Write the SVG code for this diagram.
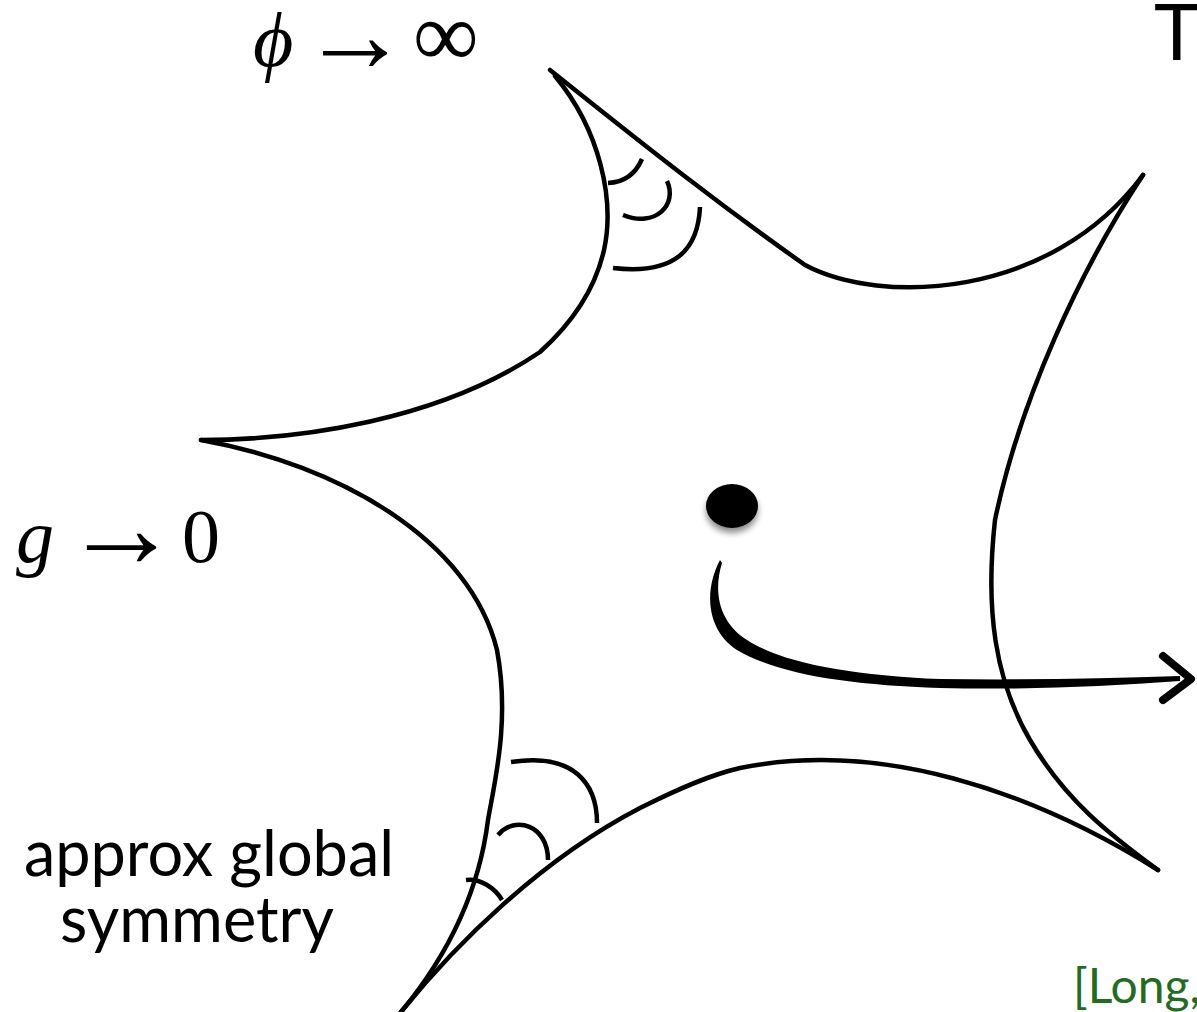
<svg xmlns="http://www.w3.org/2000/svg" width="1197" height="1012" viewBox="0 0 1197 1012">
<defs>
<style>
.edge{fill:none;stroke:#000;stroke-width:4.5;stroke-linecap:round;stroke-linejoin:round}
.arc{fill:none;stroke:#000;stroke-width:4.5;stroke-linecap:butt}
.math{font-family:"Liberation Serif","DejaVu Serif",serif;fill:#000}
.lbl{font-family:"Lato","Liberation Sans",sans-serif;fill:#000}
.cite{font-family:"Lato","Liberation Sans",sans-serif;fill:#236b1f}
</style>
<filter id="shadow" x="-50%" y="-50%" width="200%" height="200%">
<feGaussianBlur in="SourceAlpha" stdDeviation="3"/>
<feOffset dx="0" dy="5" result="b"/>
<feComponentTransfer><feFuncA type="linear" slope="0.45"/></feComponentTransfer>
<feMerge><feMergeNode/><feMergeNode in="SourceGraphic"/></feMerge>
</filter>
</defs>
<rect width="1197" height="1012" fill="#fff"/>
<g id="connectors">
<path class="edge" d="M550,70 C650,150 720,205 805,265 C880,305 1050,300 1143,175"/>
<path class="edge" d="M555,76 C600,130 615,200 604,250 C595,290 570,325 540,352 C440,420 300,440 201,440"/>
<path class="edge" d="M201,440 C340,465 470,540 497,650 C510,720 495,780 488,820 C478,900 440,965 401,1012"/>
<path class="edge" d="M401,1012 C455,945 540,860 640,808 C680,788 710,775 740,768 C880,740 1030,790 1158,870"/>
<path class="edge" d="M1143,175 C1080,270 1020,400 995,520 C985,610 995,680 1030,740 C1065,800 1110,835 1158,870"/>
<path class="arc" d="M642,159 Q632,182 608,183"/>
<path class="arc" d="M667,181 C678,205 655,228 623,215"/>
<path class="arc" d="M700,207 C698,250 675,275 613,268"/>
<path class="arc" d="M511,762 C575,752 597,785 597,823"/>
<path class="arc" d="M498,835 C515,815 548,825 548,860"/>
<path class="arc" d="M466,880 C480,878 495,888 502,900"/>
<path fill="#000" d="M720,560 C704,590 706,630 737,650 C780,675 850,685 940,688 C1020,690 1100,687 1180,681 L1180,676 C1100,679 1020,680 940,679 C850,675 783,663 747,640 C719,622 713,592 722,563 Z"/>
<path fill="none" stroke="#000" stroke-width="8" stroke-linecap="round" stroke-linejoin="round" d="M1163,656 L1191,679 L1163,700"/>
</g>
<g id="dot">
<ellipse cx="732" cy="506" rx="26" ry="22" fill="#000" filter="url(#shadow)"/>
</g>
<g id="label-phi">
<text class="math" x="253" y="66" font-size="78" font-style="italic">ϕ</text>
<text class="math" x="301" y="71" font-size="108">→</text>
<text class="math" x="413" y="66" font-size="92">∞</text>
</g>
<g id="label-g">
<text class="math" x="16" y="562" font-size="76" font-style="italic">g</text>
<text class="math" x="63" y="567" font-size="117">→</text>
<text class="math" x="182" y="562" font-size="76">0</text>
</g>
<g id="label-T">
<text class="lbl" x="1154" y="60" font-size="77">T</text>
</g>
<g id="label-symmetry">
<text class="lbl" x="209" y="876" font-size="63" text-anchor="middle">approx global</text>
<text class="lbl" x="197" y="942" font-size="63" text-anchor="middle">symmetry</text>
</g>
<g id="label-cite">
<text class="cite" x="1073" y="1003" font-size="48">[Long,</text>
</g>
</svg>
